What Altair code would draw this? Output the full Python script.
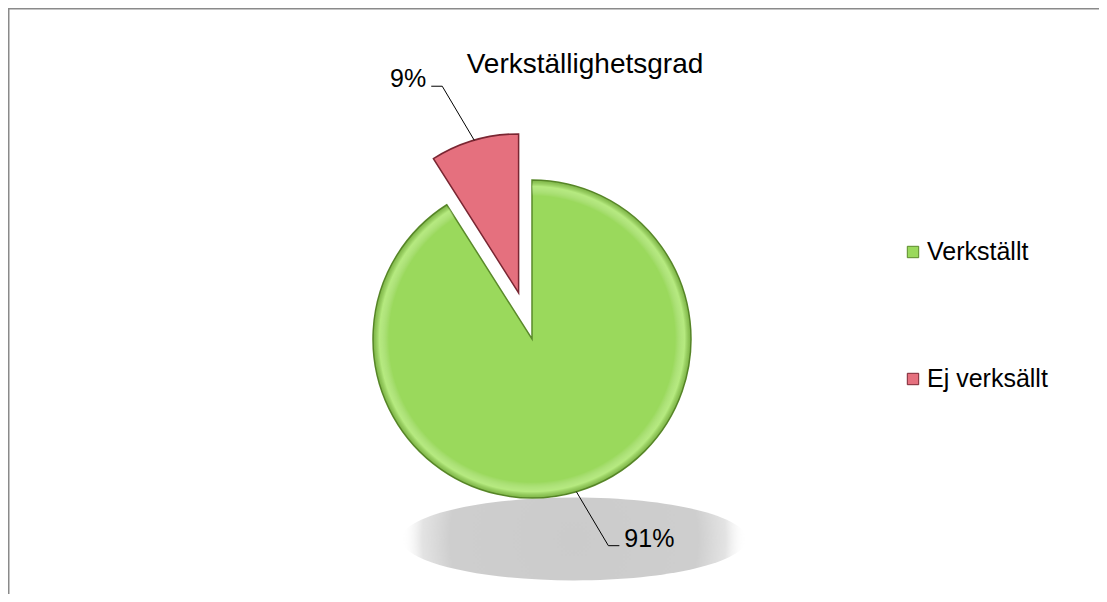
import altair as alt
import pandas as pd

# ---- data ----
categories = ["Verkställt", "Ej verksällt"]
values = [91, 9]
title_text = "Verkställighetsgrad"

fill_colors = ["#9ad95c", "#e5707e"]
edge_colors = ["#5a8a2a", "#7a2632"]

FONT = "Liberation Sans"
W, H = 1091, 586
CX, CY, R = 524, 331, 159
EXPLODE = {"Ej verksällt": 48}
LX, LY, LH = 32, 54, 11

df = pd.DataFrame({"category": categories, "value": values,
                   "idx": list(range(len(categories)))})

explode_expr = "0"
for k, v in EXPLODE.items():
    explode_expr = f"datum.category == '{k}' ? {v} : ({explode_expr})"

base = (
    alt.Chart(df)
    .transform_joinaggregate(total="sum(value)")
    .transform_window(cum="sum(value)", sort=[alt.SortField("idx")])
    .transform_calculate(
        start="2*PI*(datum.cum - datum.value)/datum.total",
        end="2*PI*datum.cum/datum.total",
        mid="PI*(2*datum.cum - datum.value)/datum.total",
        explode=explode_expr,
    )
    .transform_calculate(
        cx=f"{CX} + datum.explode*sin(datum.mid)",
        cy=f"{CY} - datum.explode*cos(datum.mid)",
        pct="format(datum.value/datum.total, '.0%')",
        sx="sin(datum.mid) >= 0 ? 1 : -1",
        sy="cos(datum.mid) >= 0 ? -1 : 1",
    )
    .transform_calculate(
        ex=f"datum.cx + {R}*sin(datum.mid)",
        ey=f"datum.cy - {R}*cos(datum.mid)",
    )
    .transform_calculate(
        kx=f"datum.ex + datum.sx*{LX}",
        ky=f"datum.ey + datum.sy*{LY}",
    )
    .transform_calculate(
        hx=f"datum.kx + datum.sx*{LH}",
        tx=f"datum.kx + datum.sx*({LH}+5)",
        ty="datum.ky + 1",
    )
)

X = lambda f: alt.X(f, scale=None, axis=None)
Y = lambda f: alt.Y(f, scale=None, axis=None)

color_enc = alt.Color("category:N", scale=alt.Scale(domain=categories, range=fill_colors), legend=None)
stroke_enc = alt.Stroke("category:N", scale=alt.Scale(domain=categories, range=edge_colors), legend=None)

arcs = base.mark_arc(outerRadius=R, strokeWidth=1.5, opacity=1).encode(
    theta=alt.Theta("start:Q", scale=None),
    theta2="end:Q",
    x=X("cx:Q"),
    y=Y("cy:Q"),
    color=color_enc,
    stroke=stroke_enc,
)

rim_grad = alt.RadialGradient(
    gradient="radial",
    stops=[
        alt.GradientStop(offset=0, color="rgba(255,255,255,0)"),
        alt.GradientStop(offset=0.9, color="rgba(255,255,255,0)"),
        alt.GradientStop(offset=0.96, color="rgba(215,255,170,0.45)"),
        alt.GradientStop(offset=1, color="rgba(60,100,20,0.3)"),
    ],
    x1=0.5, y1=0.5, x2=0.5, y2=0.5, r1=0, r2=0.5,
)
rim = base.transform_filter("datum.explode == 0").mark_arc(
    outerRadius=R, fill=rim_grad, strokeWidth=0
).encode(
    theta=alt.Theta("start:Q", scale=None),
    theta2="end:Q",
    x=X("cx:Q"),
    y=Y("cy:Q"),
)

lead1 = base.mark_rule(color="black", strokeWidth=1).encode(
    x=X("ex:Q"), y=Y("ey:Q"), x2="kx:Q", y2="ky:Q")
lead2 = base.mark_rule(color="black", strokeWidth=1).encode(
    x=X("kx:Q"), y=Y("ky:Q"), x2="hx:Q", y2="ky:Q")

lab_l = base.transform_filter("datum.sx > 0").mark_text(
    align="left", baseline="alphabetic", font=FONT, fontSize=25, color="black"
).encode(x=X("tx:Q"), y=Y("ty:Q"), text="pct:N")
lab_r = base.transform_filter("datum.sx < 0").mark_text(
    align="right", baseline="alphabetic", font=FONT, fontSize=25, color="black"
).encode(x=X("tx:Q"), y=Y("ty:Q"), text="pct:N")

# legend
LEG_X, LEG_Y0, LEG_STEP = 905, 244, 127
leg = alt.Chart(df).transform_calculate(
    ly=f"{LEG_Y0} + datum.idx*{LEG_STEP}",
    lty=f"{LEG_Y0} + 8 + datum.idx*{LEG_STEP}",
)
leg_sq = leg.mark_square(size=130, opacity=1, strokeWidth=1).encode(
    x=alt.value(LEG_X), y=Y("ly:Q"), color=color_enc, stroke=stroke_enc)
leg_tx = leg.mark_text(align="left", baseline="alphabetic", font=FONT,
                       fontSize=25, color="black").encode(
    x=alt.value(LEG_X + 14), y=Y("lty:Q"), text="category:N")

one = pd.DataFrame({"t": [title_text]})
title = alt.Chart(one).mark_text(
    align="center", baseline="alphabetic", font=FONT, fontSize=28, color="black"
).encode(x=alt.value(577), y=alt.value(65), text="t:N")

shadow_grad = alt.RadialGradient(
    gradient="radial",
    stops=[
        alt.GradientStop(offset=0, color="rgba(203,203,203,1)"),
        alt.GradientStop(offset=0.72, color="rgba(206,206,206,1)"),
        alt.GradientStop(offset=0.88, color="rgba(215,215,215,0.7)"),
        alt.GradientStop(offset=1, color="rgba(255,255,255,0)"),
    ],
    x1=0.5, y1=0.5, x2=0.5, y2=0.5, r1=0, r2=0.5,
)
shadow = alt.Chart(one).mark_point(
    shape="M -1 0 A 1 0.24 0 1 0 1 0 A 1 0.24 0 1 0 -1 0",
    size=345 * 345, filled=True, fill=shadow_grad, opacity=1, strokeWidth=0,
).encode(x=alt.value(566), y=alt.value(531))

border_top = alt.Chart(one).mark_rule(color="#8a8a8a", strokeWidth=1.5).encode(
    x=alt.value(0), x2=alt.value(W), y=alt.value(0.75))
border_left = alt.Chart(one).mark_rule(color="#8a8a8a", strokeWidth=1.5).encode(
    x=alt.value(0.75), y=alt.value(0), y2=alt.value(H))

chart = alt.layer(
    border_top, border_left, shadow, arcs, rim, lead1, lead2, lab_l, lab_r,
    leg_sq, leg_tx, title,
).properties(width=W, height=H, padding=0, autosize="none",
             background="white").configure_view(strokeWidth=0)

chart.save("out.html", embed_options={"renderer": "svg", "actions": False})
